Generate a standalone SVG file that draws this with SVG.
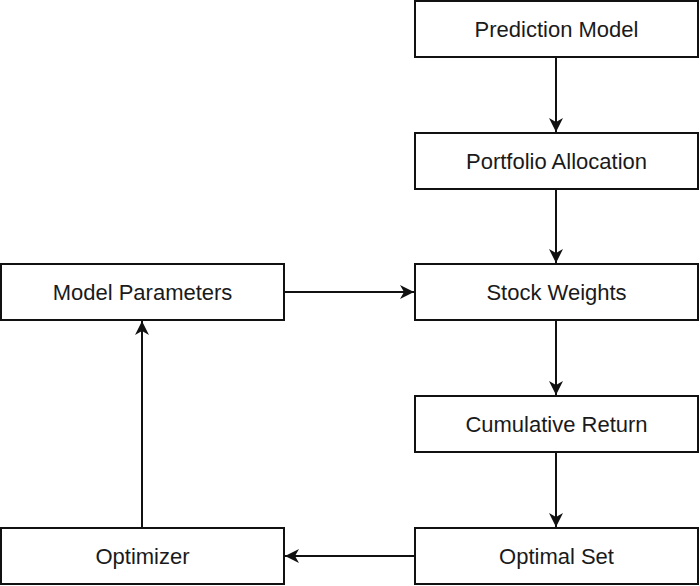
<svg xmlns="http://www.w3.org/2000/svg" width="700" height="586" viewBox="0 0 700 586">
<style>
.box{fill:#fff;stroke:#111;stroke-width:2}
.lbl{font-family:"Liberation Sans",Arial,sans-serif;font-size:22px;fill:#1a1a1a;text-anchor:middle}
.edge{stroke:#111;stroke-width:2;fill:none;marker-end:url(#ah)}
</style>
<defs>
<marker id="ah" viewBox="0 0 14 14" refX="14" refY="7" markerWidth="14" markerHeight="14" markerUnits="userSpaceOnUse" orient="auto">
<path d="M0,0 L14,7 L0,14 L4,7 Z" fill="#111"/>
</marker>
</defs>
<rect width="700" height="586" fill="#fff"/>
<g id="connectors">
<line class="edge" x1="556" y1="57" x2="556" y2="132"/>
<line class="edge" x1="556" y1="189" x2="556" y2="263"/>
<line class="edge" x1="284" y1="292" x2="414" y2="292"/>
<line class="edge" x1="556" y1="320" x2="556" y2="395"/>
<line class="edge" x1="556" y1="452" x2="556" y2="527"/>
<line class="edge" x1="415" y1="556" x2="285" y2="556"/>
<line class="edge" x1="142" y1="528" x2="142" y2="321"/>
</g>
<g id="prediction-model"><rect class="box" x="415" y="1" width="283" height="56"/><text class="lbl" x="556.5" y="37">Prediction Model</text></g>
<g id="portfolio-allocation"><rect class="box" x="415" y="133" width="283" height="56"/><text class="lbl" x="556.5" y="169">Portfolio Allocation</text></g>
<g id="stock-weights"><rect class="box" x="415" y="264" width="283" height="56"/><text class="lbl" x="556.5" y="300">Stock Weights</text></g>
<g id="model-parameters"><rect class="box" x="1" y="264" width="283" height="56"/><text class="lbl" x="142.5" y="300">Model Parameters</text></g>
<g id="cumulative-return"><rect class="box" x="415" y="396" width="283" height="56"/><text class="lbl" x="556.5" y="432">Cumulative Return</text></g>
<g id="optimal-set"><rect class="box" x="415" y="528" width="283" height="56"/><text class="lbl" x="556.5" y="564">Optimal Set</text></g>
<g id="optimizer"><rect class="box" x="1" y="528" width="283" height="56"/><text class="lbl" x="142.5" y="564">Optimizer</text></g>
</svg>
